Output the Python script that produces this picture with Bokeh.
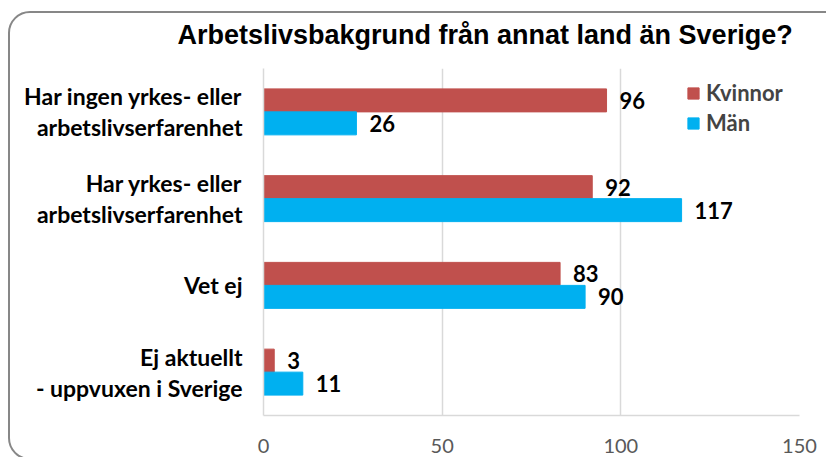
from bokeh.plotting import figure
from bokeh.models import (ColumnDataSource, FactorRange, Range1d, FixedTicker,
                          Legend, LegendItem, InlineStyleSheet)
from bokeh.transform import dodge
from bokeh.core.properties import value
from bokeh.embed import file_html
from bokeh.resources import INLINE

# ---- data ----
categories = ["Har ingen yrkes- eller\narbetslivserfarenhet",
              "Har yrkes- eller\narbetslivserfarenhet",
              "Vet ej",
              "Ej aktuellt\n- uppvuxen i Sverige"]
kvinnor = [96, 92, 83, 3]
man = [26, 117, 90, 11]
series_names = ["Kvinnor", "Män"]
x_ticks = [0, 50, 100, 150]
title_text = "Arbetslivsbakgrund från annat land än Sverige?"

# ---- style ----
RED = "#C0504D"
BLUE = "#00B0F0"
GRID = "#D9D9D9"
FONT = "Lato"

src = ColumnDataSource(dict(cat=categories, kvinnor=kvinnor, man=man,
                            kv_lbl=[str(v) for v in kvinnor],
                            man_lbl=[str(v) for v in man]))

p = figure(width=826, height=457,
           y_range=FactorRange(*categories[::-1]),
           x_range=Range1d(x_ticks[0], x_ticks[-1]),
           output_backend="svg", toolbar_location=None,
           min_border_left=263, min_border_right=27,
           min_border_top=68, min_border_bottom=42)

bar_h = 0.265
off = bar_h / 2
r1 = p.hbar(y=dodge("cat", off, range=p.y_range), right="kvinnor", left=0,
            height=bar_h, color=RED, source=src)
r2 = p.hbar(y=dodge("cat", -off, range=p.y_range), right="man", left=0,
            height=bar_h, color=BLUE, source=src)

for col, lbl, o in (("kvinnor", "kv_lbl", off), ("man", "man_lbl", -off)):
    p.text(x=col, y=dodge("cat", o, range=p.y_range), text=lbl, source=src,
           x_offset=13, text_baseline="middle", text_align="left",
           text_font=value(FONT), text_font_style="bold",
           text_font_size="22px", text_color="black")

# grid & axes
p.ygrid.visible = False
p.xgrid.ticker = FixedTicker(ticks=x_ticks)
p.xgrid.grid_line_color = GRID
p.xgrid.grid_line_width = 1.5
p.xaxis.ticker = FixedTicker(ticks=x_ticks)
p.xaxis.major_label_text_font = FONT
p.xaxis.major_label_text_font_size = "20px"
p.xaxis.major_label_text_color = "#595959"
p.xaxis.axis_line_color = GRID
p.xaxis.axis_line_width = 1.5
p.xaxis.major_tick_line_color = None
p.xaxis.minor_tick_line_color = None
p.xaxis.major_label_standoff = 17

p.yaxis.major_label_text_font = FONT
p.yaxis.major_label_text_font_style = "bold"
p.yaxis.major_label_text_font_size = "23px"
p.yaxis.major_label_text_color = "black"
p.yaxis.major_label_text_line_height = 1.1
p.yaxis.axis_line_color = GRID
p.yaxis.axis_line_width = 1.5
p.yaxis.major_tick_line_color = None
p.yaxis.minor_tick_line_color = None
p.yaxis.major_label_standoff = 15
p.outline_line_color = None

# title
p.title.text = title_text
p.title.text_font = "Liberation Sans"
p.title.text_font_style = "bold"
p.title.text_font_size = "27px"
p.title.text_color = "black"
p.title.align = "left"
p.title.vertical_align = "top"
p.title.offset = -86
p.title.standoff = 34

# legend
legend = Legend(items=[LegendItem(label=series_names[0], renderers=[r1]),
                       LegendItem(label=series_names[1], renderers=[r2])],
                location=(423, 279), orientation="vertical",
                border_line_color=None, background_fill_alpha=0,
                padding=0, margin=0, spacing=3,
                glyph_width=14, glyph_height=14, label_standoff=6,
                label_text_font=FONT, label_text_font_style="bold",
                label_text_font_size="22px", label_height=24)
p.add_layout(legend)

# rounded chart border (decoration around the whole chart)
p.stylesheets = [InlineStyleSheet(css="""
:host { position: relative; overflow: hidden; }
:host::after { content: ""; position: absolute; left: 8px; top: 11px;
  width: 840px; height: 449px; box-sizing: border-box;
  border: 2px solid #878787; border-radius: 22px; pointer-events: none; }
""")]

open("out.html", "w").write(file_html(p, INLINE))
